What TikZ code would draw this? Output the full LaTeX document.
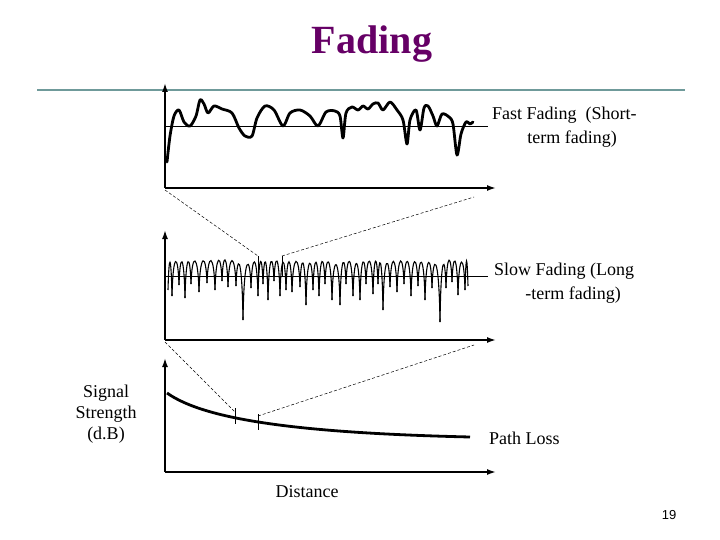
\documentclass[tikz,border=0pt]{standalone}
\usepackage{fontspec}
\usetikzlibrary{arrows.meta}
\setmainfont{Liberation Serif}
\newfontfamily\numfont{Liberation Sans}
\definecolor{ttl}{HTML}{660066}
\definecolor{rule}{HTML}{6F9A9A}
\begin{document}
\begin{tikzpicture}[x=1pt,y=-1pt,
  axis/.style={line width=1.6pt,-{Latex[length=9pt,width=6pt]}},
  refl/.style={line width=0.6pt},
  dsh/.style={dash pattern=on 3pt off 2pt,line width=0.5pt},
  lbl/.style={font=\fontsize{18}{21}\selectfont,inner sep=0pt}]
\useasboundingbox (0,0) rectangle (720,540);
\node[font=\fontsize{40}{42}\selectfont\bfseries,text=ttl] (title) at (372,44) {Fading};
\draw[rule,line width=3pt] (37,91) -- (685,91);
\draw[white,line width=0.6pt] (37,91) -- (685,91);
% top plot
\coordinate (o1) at (165,188);
\draw[axis] (o1) -- (165,83);
\draw[axis] (o1) -- (496,188);
\draw[refl] (165,126) -- (488,126);
\draw[line width=2.8pt,line join=round,line cap=round] plot[smooth,tension=0.5] coordinates {
(167,162)(170,136)(174,116)(179,110)(184,122)(190,126)(196,116)(200,100)(204,104)(208,113)(214,106)(222,109)(232,113)(239,128)(245,136)(252,136)(257,118)(265,106)(274,110)(283,126)(290,113)(300,110)(310,116)(318,126)(326,112)(335,111)(340,116)(343,138)(346,113)(352,107)(358,110)(363,106)(368,109)(373,104)(378,103)(383,110)(390,102)(397,110)(403,120)(407,144)(410,120)(416,110)(420,130)(424,108)(428,106)(433,116)(437,126)(442,114)(449,117)(453,124)(457,155)(461,134)(466,122)(470,124)(473,122)};
% middle plot
\coordinate (o2) at (165,340);
\draw[axis] (o2) -- (165,230);
\draw[axis] (o2) -- (496,340);
\draw[refl] (165,276) -- (488,276);
\foreach \a/\da/\b/\db in {168/290/172/296,172/296/179/285,179/285/185/298,185/298/191/284,191/284/199/292,199/292/207/283,207/283/215/290,215/290/222/281,222/281/228/287,228/287/236/286,236/286/243/320,243/320/251/288,251/288/258/296,258/296/263/284,263/284/268/300,268/300/274/281,274/281/280/296,280/296/286/290,286/290/292/292,292/292/300/287,300/287/306/305,306/305/313/290,313/290/319/296,319/296/325/284,325/284/332/300,332/300/340/305,340/305/346/284,346/284/353/296,353/296/360/300,360/300/366/284,366/284/373/294,373/294/378/284,378/284/383/310,383/310/390/287,390/287/397/292,397/292/404/284,404/284/411/296,411/296/418/286,418/286/425/300,425/300/432/288,432/288/440/322,440/322/446/288,446/288/452/282,452/282/458/295,458/295/465/290,465/290/468/286}
  \draw[line width=1.1pt] (\a,\da) .. controls (\a+1,252) and (\b-1,252) .. (\b,\db);
\draw[line width=0.6pt] (258,276) -- (258,256);
\draw[line width=0.6pt] (282,276) -- (282,256);
% bottom plot
\coordinate (o3) at (165,472);
\draw[axis] (o3) -- (165,358);
\draw[axis] (o3) -- (496,472);
\draw[line width=2.8pt] (167,393) .. controls (205,420) and (300,433) .. (470,437);
\draw[line width=0.6pt] (235,408) -- (235,424);
\draw[line width=0.6pt] (258,414) -- (258,430);
% dashed zoom lines
\draw[dsh] (165,190) -- (258,256);
\draw[dsh] (282,256) -- (474,197);
\draw[dsh] (165,342) -- (235,412);
\draw[dsh] (258,416) -- (474,345);
% labels
\node[lbl,anchor=west] (ff1) at (492,115) {Fast Fading\ \ (Short-};
\node[lbl] (ff2) at (572,139) {term fading)};
\node[lbl,anchor=west] (sf1) at (494,271) {Slow Fading (Long};
\node[lbl] (sf2) at (573,295) {-term fading)};
\node[lbl,align=center] (ss) at (106,414) {Signal\\Strength\\(d.B)};
\node[lbl,anchor=west] (pl) at (489,438) {Path Loss};
\node[lbl] (dist) at (307,492) {Distance};
\node[font=\numfont\fontsize{13}{15}\selectfont] (pg) at (669,515) {19};
\end{tikzpicture}
\end{document}
